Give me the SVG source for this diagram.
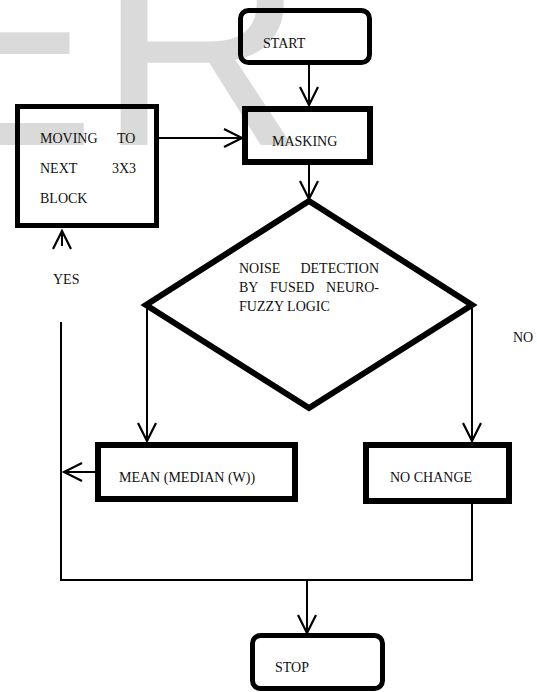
<svg xmlns="http://www.w3.org/2000/svg" width="537" height="692" viewBox="0 0 537 692">
<defs>
<style>
.box{fill:none;stroke:#000;stroke-width:6}
.term{fill:none;stroke:#000;stroke-width:5}
.lbl{font-family:"Liberation Serif","Times New Roman",serif;font-size:14px;fill:#111}
.con{fill:none;stroke:#000;stroke-width:2}
</style>
<marker id="ah" markerUnits="userSpaceOnUse" markerWidth="24" markerHeight="24" refX="19" refY="10" orient="auto">
<path d="M1,1 L19,10 L1,19" fill="none" stroke="#000" stroke-width="2.2"/>
</marker>
</defs>
<rect width="537" height="692" fill="#fff"/>
<g id="watermark" fill="#dadada" font-family="Liberation Sans, Arial, sans-serif" font-size="288">
<text x="-96" y="145">E</text>
<text x="97" y="145">R</text>
</g>

<g id="connectors">
<line class="con" x1="309" y1="65" x2="309" y2="105" marker-end="url(#ah)"/>
<line class="con" x1="309" y1="165" x2="309" y2="199" marker-end="url(#ah)"/>
<line class="con" x1="159" y1="138" x2="242" y2="138" marker-end="url(#ah)"/>
<line class="con" x1="147" y1="305" x2="147" y2="441" marker-end="url(#ah)"/>
<line class="con" x1="472" y1="305" x2="472" y2="441" marker-end="url(#ah)"/>
<line class="con" x1="95" y1="472" x2="64" y2="472" marker-end="url(#ah)"/>
<line class="con" x1="62" y1="246" x2="62" y2="231" stroke-width="2.5" marker-end="url(#ah)"/>
<polyline class="con" points="61,322 61,580 472,580 472,504"/>
<line class="con" x1="307" y1="580" x2="307" y2="633" marker-end="url(#ah)"/>
</g>

<g id="start">
<rect class="term" x="240.5" y="10.5" width="129" height="52" rx="8"/>
<text class="lbl" x="263" y="48">START</text>
</g>
<g id="masking">
<rect class="box" x="245" y="109" width="125" height="53"/>
<text class="lbl" x="272" y="146">MASKING</text>
</g>
<g id="moving">
<rect class="term" x="17.5" y="106.5" width="139" height="119"/>
<text class="lbl" x="40" y="143">MOVING</text>
<text class="lbl" x="117" y="143">TO</text>
<text class="lbl" x="40" y="173">NEXT</text>
<text class="lbl" x="112" y="173">3X3</text>
<text class="lbl" x="40" y="203">BLOCK</text>
</g>
<g id="decision">
<polygon class="box" points="309,201 472,305 309,408 146,305"/>
<text class="lbl" x="239" y="273">NOISE</text>
<text class="lbl" x="379" y="273" text-anchor="end">DETECTION</text>
<text class="lbl" x="239" y="292">BY</text>
<text class="lbl" x="270" y="292">FUSED</text>
<text class="lbl" x="379" y="292" text-anchor="end">NEURO-</text>
<text class="lbl" x="239" y="311">FUZZY LOGIC</text>
</g>
<g id="mean">
<rect class="box" x="98" y="445" width="197" height="54"/>
<text class="lbl" x="119" y="482">MEAN (MEDIAN (W))</text>
</g>
<g id="nochange">
<rect class="box" x="366" y="445" width="143" height="56"/>
<text class="lbl" x="390" y="482">NO CHANGE</text>
</g>
<g id="stop">
<rect class="term" x="252.5" y="635.5" width="130" height="53" rx="8"/>
<text class="lbl" x="275" y="672">STOP</text>
</g>
<g id="labels">
<text class="lbl" x="53" y="284">YES</text>
<text class="lbl" x="513" y="342">NO</text>
</g>
</svg>
